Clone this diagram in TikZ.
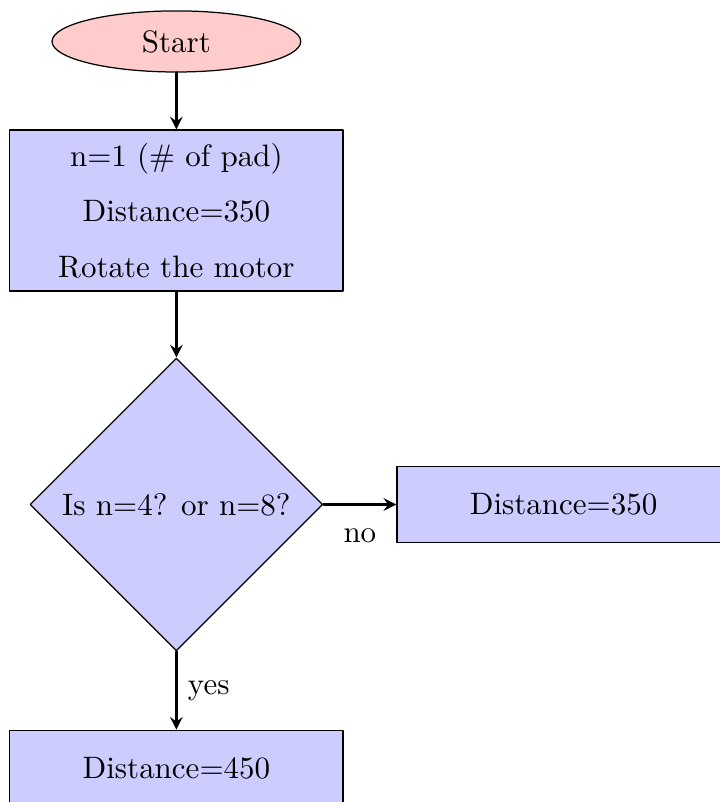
\documentclass[tikz,border=0pt]{standalone}
\usetikzlibrary{shapes.geometric,arrows.meta,positioning}
\definecolor{FlowPink}{HTML}{FFCCCC}
\definecolor{FlowBlue}{HTML}{CCCCFF}

\begin{document}
\begin{tikzpicture}[line cap=round,line join=round,>=stealth,
  startstop/.style={ellipse,draw,fill=FlowPink,minimum width=2.82cm,minimum height=0.67cm},
  process/.style={rectangle,draw,fill=FlowBlue,minimum width=3.78cm,minimum height=0.86cm,align=center},
  decision/.style={diamond,draw,fill=FlowBlue,minimum width=3.32cm,minimum height=3.32cm,inner sep=1pt},
  flow/.style={thick,->}]
  \useasboundingbox (0,0) rectangle (8.163,-9.093);
  \node[startstop] (start) at (2,-0.47) {Start};
  \node[process,minimum height=1.825cm] (init) at (2,-2.387)
    {n=1 (\# of pad)\\[6pt]Distance=350\\[6pt]Rotate the motor};
  \node[decision] (check) at (2,-5.72) {Is n=4? or n=8?};
  \node[process] (far) at (6.39,-5.72) {Distance=350};
  \node[process] (near) at (2,-8.71) {Distance=450};
  \draw[flow] (start) -- (init);
  \draw[flow] (init) -- (check);
  \draw[flow] (check) -- node[below=4pt,midway] {no} (far);
  \draw[flow] (check) -- node[right,midway] {yes} (near);
\end{tikzpicture}
\end{document}
